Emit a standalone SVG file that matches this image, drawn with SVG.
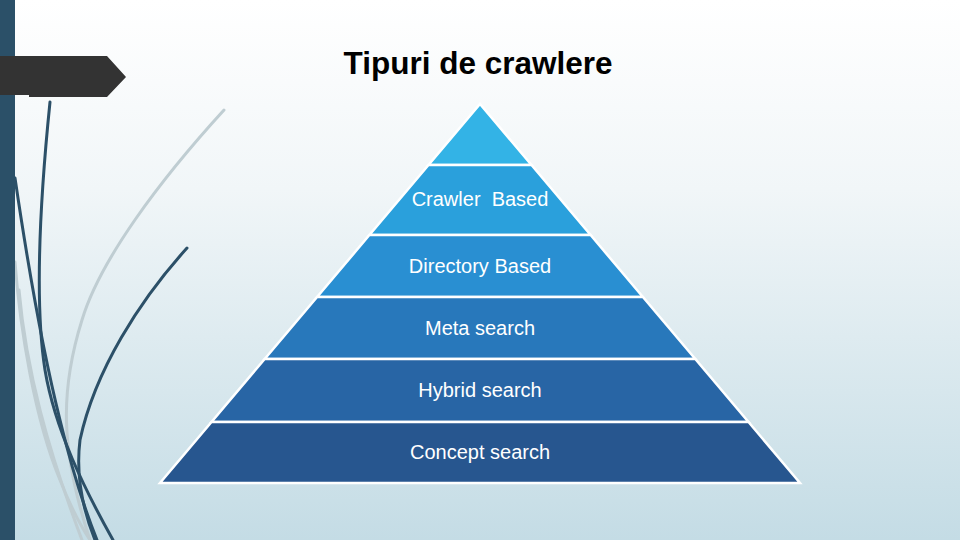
<svg xmlns="http://www.w3.org/2000/svg" width="960" height="540" viewBox="0 0 960 540">
  <defs>
    <linearGradient id="bg" x1="0" y1="0" x2="0" y2="1">
      <stop offset="0" stop-color="#ffffff"/>
      <stop offset="0.35" stop-color="#f1f6f8"/>
      <stop offset="1" stop-color="#c4dce5"/>
    </linearGradient>
  </defs>
  <style>
    .dark{fill:none;stroke:#2c5068;stroke-width:3;stroke-linecap:round}
    .light{fill:none;stroke:#bfcdd2;stroke-width:3;stroke-linecap:round}
    .layer{stroke:#ffffff;stroke-width:2.5;stroke-linejoin:miter}
    .lbl{font-family:"Liberation Sans",Arial,sans-serif;font-size:20px;fill:#ffffff;text-anchor:middle;white-space:pre}
    .title{font-family:"Liberation Sans",Arial,sans-serif;font-size:31.5px;font-weight:bold;fill:#000000;text-anchor:middle}
  </style>
  <rect x="0" y="0" width="960" height="540" fill="url(#bg)"/>
  <g id="decor">
    <path class="light" d="M224,110 C160,180 100,260 82,320 C60,390 60,450 90,540"/>
    <path class="light" d="M15,262 C20,330 35,420 60,480 C70,505 80,525 90,540"/>
    <path class="light" d="M19,290 C26,370 48,450 82,540"/>
    <path class="dark" d="M50,102 C40,200 34,300 45,370 C55,430 85,490 113,540"/>
    <path class="dark" d="M15,178 C30,280 45,360 60,420 C72,470 85,510 97,540"/>
    <path class="dark" d="M187,248 C140,300 95,370 80,440 C75,480 85,515 95,540"/>
    <rect x="0" y="0" width="15" height="540" fill="#2b5068"/>
    <polygon points="0,56 107,56 126,77 107,97 29,97 29,95 0,95" fill="#333333"/>
  </g>
  <text id="title" class="title" x="478" y="74">Tipuri de crawlere</text>
  <g id="pyramid">
    <g id="layer-top">
      <polygon class="layer" points="480,104 531.5,165 428.5,165" fill="#33b3e6"/>
    </g>
    <g id="layer-crawler">
      <polygon class="layer" points="428.5,165 531.5,165 590.6,235 369.4,235" fill="#2aa0dc"/>
      <text class="lbl" x="480" y="206" xml:space="preserve">Crawler  Based</text>
    </g>
    <g id="layer-directory">
      <polygon class="layer" points="369.4,235 590.6,235 642.9,297 317.1,297" fill="#298fd2"/>
      <text class="lbl" x="480" y="273">Directory Based</text>
    </g>
    <g id="layer-meta">
      <polygon class="layer" points="317.1,297 642.9,297 695.3,359 264.7,359" fill="#2878bb"/>
      <text class="lbl" x="480" y="335">Meta search</text>
    </g>
    <g id="layer-hybrid">
      <polygon class="layer" points="264.7,359 695.3,359 748.5,422 211.5,422" fill="#2865a5"/>
      <text class="lbl" x="480" y="397">Hybrid search</text>
    </g>
    <g id="layer-concept">
      <polygon class="layer" points="211.5,422 748.5,422 800,483 160,483" fill="#27568f"/>
      <text class="lbl" x="480" y="459">Concept search</text>
    </g>
  </g>
</svg>
